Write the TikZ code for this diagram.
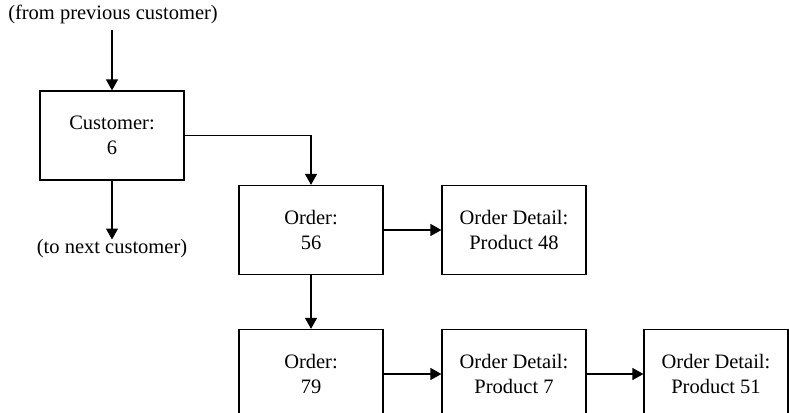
\documentclass[tikz,border=0pt]{standalone}
\usepackage{fontspec}
\setmainfont{Liberation Serif}
\usetikzlibrary{arrows.meta}
\begin{document}
\begin{tikzpicture}[x=1pt,y=-1pt,
  every node/.style={font=\fontsize{20.5}{25}\selectfont},
  rec/.style={draw,line width=1.2pt,rectangle,minimum width=144pt,minimum height=89pt,align=center,inner sep=0pt},
  link/.style={line width=1.2pt,-{Triangle[length=11pt,width=12pt]}},
  lbl/.style={inner sep=0pt}]
\useasboundingbox (0,0) rectangle (789,412);
% record boxes
\node[rec] (cust) at (112,135.5) {Customer:\\6};
\node[rec] (ord56) at (311,230) {Order:\\56};
\node[rec] (od48) at (514,230) {Order Detail:\\Product 48};
\node[rec] (ord79) at (311,374) {Order:\\79};
\node[rec] (od7) at (514,374) {Order Detail:\\Product 7};
\node[rec] (od51) at (716,374) {Order Detail:\\Product 51};
% chain labels
\node[lbl,anchor=base] (prev) at (113,20) {(from previous customer)};
\node[lbl,anchor=north] (next) at (112,239.5) {(to next customer)};
\coordinate (prevend) at (112,30);
% connectors
\draw[link] (prevend) -- (cust);
\draw[link] (cust) -- (next);
\draw[link] (cust.east) -| (ord56.north);
\draw[link] (ord56) -- (od48);
\draw[link] (ord56) -- (ord79);
\draw[link] (ord79) -- (od7);
\draw[link] (od7) -- (od51);
\end{tikzpicture}
\end{document}
